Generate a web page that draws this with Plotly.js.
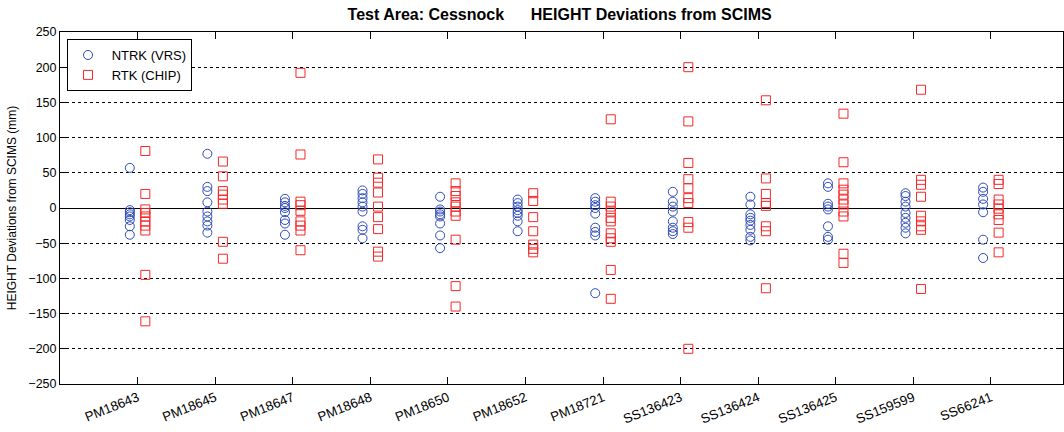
<!DOCTYPE html>
<html>
<head>
<meta charset="utf-8">
<script src="https://cdn.plot.ly/plotly-3.0.1.min.js"></script>
<style>html,body{margin:0;padding:0;background:#fff;}#chart{width:1064px;height:432px;}</style>
</head>
<body>
<div id="chart"></div>
<script>
// Station names (x categories)
const stations = ["PM18643","PM18645","PM18647","PM18648","PM18650","PM18652","PM18721","SS136423","SS136424","SS136425","SS159599","SS66241"];

// NTRK (VRS) height deviations (mm), one list per station
const ntrkVRS = [
  [57, -3, -6, -9, -12, -17, -26, -38],
  [77, 30, 24, 8, -5, -12, -19, -25, -35],
  [13, 8, 3, 0, -6, -17, -22, -38],
  [25, 20, 14, 8, 2, -5, -26, -31, -43],
  [16, -2, -5, -9, -12, -22, -39, -57],
  [12, 7, 2, -3, -7, -11, -19, -33],
  [14, 9, 4, 0, -8, -28, -34, -39, -121],
  [23, 9, 2, -5, -19, -28, -33, -37],
  [16, 5, -9, -14, -18, -24, -31, -41, -46],
  [35, 30, 6, 2, -2, -26, -41, -45],
  [21, 17, 9, 2, -7, -14, -21, -28, -36],
  [29, 23, 13, 5, -6, -45, -71]
];

// RTK (CHIP) height deviations (mm), one list per station
const rtkCHIP = [
  [81, 20, -2, -7, -12, -19, -25, -32, -95, -161],
  [66, 45, 24, 19, 12, 6, -48, -72],
  [192, 76, 9, 4, -4, -19, -25, -32, -60],
  [69, 43, 36, 22, 2, -13, -30, -62, -69],
  [35, 24, 17, 8, 2, -5, -11, -45, -111, -140],
  [21, 10, -13, -33, -52, -58, -63],
  [126, 9, 2, -5, -14, -19, -36, -43, -48, -88, -129],
  [200, 123, 64, 41, 28, 14, 7, -20, -28, -200],
  [153, 42, 20, 7, 3, -26, -33, -114],
  [134, 65, 35, 26, 19, 12, 5, -5, -12, -65, -78],
  [168, 40, 33, 16, -11, -19, -26, -31, -115],
  [40, 34, 12, 5, -1, -9, -17, -35, -63]
];

const yTicks = [-250,-200,-150,-100,-50,0,50,100,150,200,250];

function flatten(groups, offset) {
  const xs = [], ys = [];
  groups.forEach((vals, i) => {
    vals.forEach(v => { xs.push(i + 1 + offset); ys.push(v); });
  });
  return {xs, ys};
}
const b = flatten(ntrkVRS, -0.1);
const r = flatten(rtkCHIP, 0.1);

const font = "Liberation Sans, Arial, sans-serif";

const traces = [
  {x: b.xs, y: b.ys, mode: "markers", type: "scatter", name: " NTRK (VRS)",
   marker: {symbol: "circle-open", size: 9, color: "rgb(45,75,185)", line: {width: 1, color: "rgb(45,75,185)"}}},
  {x: r.xs, y: r.ys, mode: "markers", type: "scatter", name: " RTK (CHIP)",
   marker: {symbol: "square-open", size: 9, color: "rgb(245,40,40)", line: {width: 1, color: "rgb(245,40,40)"}}}
];

const layout = {
  width: 1064, height: 432,
  margin: {l: 60, r: 1, t: 32, b: 48},
  paper_bgcolor: "#fff", plot_bgcolor: "#fff",
  font: {family: font, size: 12, color: "#000"},
  title: {text: "<b>Test Area: Cessnock      HEIGHT Deviations from SCIMS</b>", font: {family: font, size: 16, color: "#000"},
          x: 0.526, xanchor: "center", y: 0.966, yanchor: "middle"},
  showlegend: true,
  legend: {x: 0.007, y: 0.98, xanchor: "left", yanchor: "top", bgcolor: "#fff", bordercolor: "#000", borderwidth: 1,
           font: {family: font, size: 13, color: "#000"}, tracegroupgap: 0},
  xaxis: {
    range: [0, 12.93], tickmode: "array", tickvals: stations.map((s, i) => i + 1), ticktext: stations,
    tickangle: -22, ticks: "inside", ticklen: 7, tickcolor: "#000", showgrid: false, zeroline: false,
    showline: true, linecolor: "#000", linewidth: 1, mirror: "ticks", tickfont: {family: font, size: 13.3, color: "#000"}
  },
  yaxis: {
    range: [-250, 250], tickmode: "array", tickvals: yTicks, ticks: "inside", ticklen: 7, tickcolor: "#000",
    showgrid: true, gridcolor: "#000", griddash: "3px,3px", gridwidth: 1,
    zeroline: true, zerolinecolor: "#000", zerolinewidth: 1,
    showline: true, linecolor: "#000", linewidth: 1, mirror: "ticks",
    tickfont: {family: font, size: 12.5, color: "#000"},
    title: {text: "HEIGHT Deviations from SCIMS (mm)", font: {family: font, size: 12, color: "#000"}, standoff: 9}
  }
};

Plotly.newPlot("chart", traces, layout, {displayModeBar: false, staticPlot: true});
</script>
</body>
</html>
